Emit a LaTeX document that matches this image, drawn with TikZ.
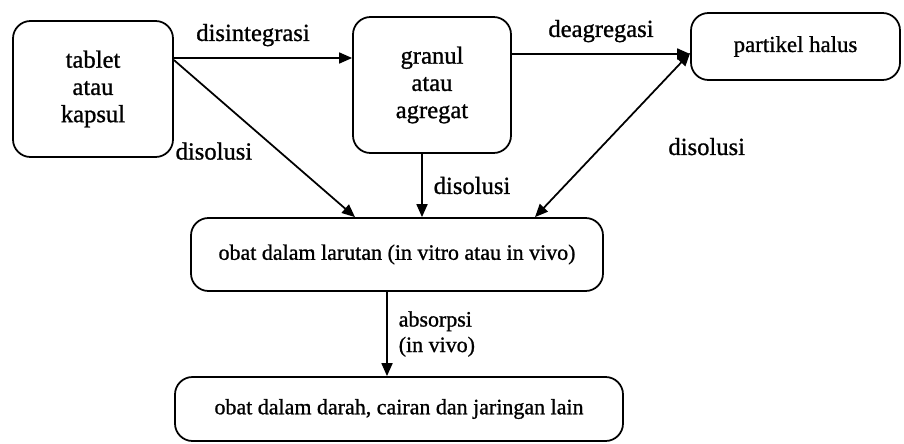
\documentclass[tikz,border=0pt]{standalone}
\usepackage{fontspec}
\setmainfont{Liberation Serif}[FakeBold=1]
\usepackage{tikz}
\usetikzlibrary{arrows.meta,positioning,calc}

\begin{document}
\begin{tikzpicture}[every node/.style={font=\fontsize{14}{15.5}\selectfont}, box/.style={draw, line width=1pt, rounded corners=3.5mm, align=center, inner sep=0pt}, wide/.style={box, font=\fontsize{12.5}{15}\selectfont}, arr/.style={-{Triangle[length=2.6mm,width=2.2mm]}, line width=1pt}, darr/.style={{Triangle[length=2.6mm,width=2.2mm]}-{Triangle[length=2.6mm,width=2.2mm]}, line width=1pt}]
\useasboundingbox (0,0) rectangle (18.08,-8.86);
\node[box, minimum width=3.2cm, minimum height=2.72cm] (tablet) at (1.86,-1.78) {tablet\\atau\\kapsul};
\node[box, minimum width=3.16cm, minimum height=2.72cm] (granul) at (8.64,-1.70) {granul\\atau\\agregat};
\node[box, minimum width=4.18cm, minimum height=1.34cm, font=\fontsize{13}{15}\selectfont] (partikel) at (15.91,-0.93) {partikel halus};
\node[wide, minimum width=8.24cm, minimum height=1.46cm] (larutan) at (7.94,-5.09) {obat dalam larutan (in vitro atau in vivo)};
\node[wide, minimum width=8.96cm, minimum height=1.28cm] (darah) at (7.98,-8.18) {obat dalam darah, cairan dan jaringan lain};
\draw[arr] ([yshift=6.2mm]tablet.east) -- ([yshift=6.2mm]tablet.east -| granul.west) node[midway, above=1mm, xshift=-2mm] {disintegrasi};
\draw[arr] ([yshift=6.2mm]granul.east) -- ([yshift=6.2mm]granul.east -| partikel.west) node[midway, above=1mm] {deagregasi};
\draw[arr] ([yshift=5.8mm]tablet.east) -- ([xshift=-8.4mm]larutan.north) node[pos=0.58, left=4mm] {disolusi};
\draw[arr] ([xshift=-2mm]granul.south) -- ([xshift=-2mm]granul.south |- larutan.north) node[midway, right=1mm] {disolusi};
\draw[darr] ([yshift=-1.3mm]partikel.west) -- ([xshift=27.6mm]larutan.north) node[pos=0.57, right=12mm] {disolusi};
\draw[arr] ([xshift=-2mm]larutan.south) -- ([xshift=-2mm]larutan.south |- darah.north) node[midway, right=1mm, align=left, font=\fontsize{12.5}{14.5}\selectfont] {absorpsi\\(in vivo)};
\end{tikzpicture}
\end{document}
